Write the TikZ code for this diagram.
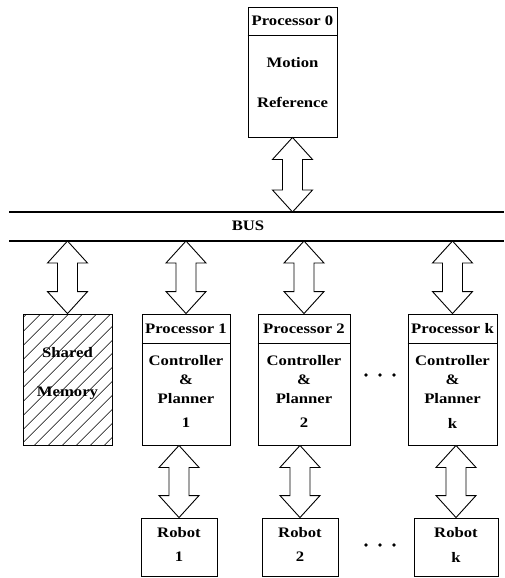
\documentclass[tikz,border=0pt]{standalone}
\usepackage{fontspec}
\setmainfont{Liberation Serif}[FakeStretch=1.15]
\usetikzlibrary{calc,patterns.meta}
\newcommand\dblarr[2]{%
  \draw[arrbox] let \p1=(#1), \p2=(#2) in
  (\x1,\y1) -- (\x1+20pt,\y1-22pt) -- (\x1+10pt,\y1-22pt) -- (\x1+10pt,\y2+22pt)
  -- (\x1+20pt,\y2+22pt) -- (\x1,\y2) -- (\x1-20pt,\y2+22pt) -- (\x1-10pt,\y2+22pt)
  -- (\x1-10pt,\y1-22pt) -- (\x1-20pt,\y1-22pt) -- cycle;}
\begin{document}
\begin{tikzpicture}[x=1pt,y=-1pt,
  txt/.style={font=\fontsize{14.5}{17}\selectfont\bfseries, inner sep=0pt},
  box/.style={draw, line width=0.9pt, inner sep=0pt},
  arrbox/.style={draw, line width=0.9pt, line join=miter, fill=white},
  busline/.style={line width=1.6pt},
  dot/.style={circle, fill, inner sep=0pt, minimum size=3.6pt}]
\useasboundingbox (0,0) rectangle (504,578);

% Processor 0
\node[box, minimum width=89pt, minimum height=130pt] (p0) at (292.5,72) {};
\draw[line width=0.9pt] (p0.west |- 0,35) -- (p0.east |- 0,35);
\node[txt] (p0t) at (292.5,21) {Processor 0};
\node[txt] (p0a) at (292.5,63) {Motion};
\node[txt] (p0b) at (292.5,102) {Reference};

% Bus
\coordinate (bt1) at (9,212);
\coordinate (bt2) at (504,212);
\coordinate (bb1) at (9,241);
\coordinate (bb2) at (504,241);
\draw[busline] (bt1) -- (bt2);
\draw[busline] (bb1) -- (bb2);
\node[txt] (bus) at (248,226) {BUS};

% Shared memory
\node[box, minimum width=89pt, minimum height=131pt,
  pattern={Lines[angle=45,distance=10.5pt,line width=0.75pt]}, pattern color=black] (sm) at (67.5,379.5) {};
\node[txt] (sma) at (67.5,353) {Shared};
\node[txt] (smb) at (67.5,393) {Memory};

% Processors 1, 2, k
\foreach \n/\cx/\w/\lab in {p1/186/88/1, p2/304/92/2, pk/452.5/89/k}{
  \node[box, minimum width=\w pt, minimum height=131pt] (\n) at (\cx,379.5) {};
  \draw[line width=0.9pt] (\n.west |- 0,343) -- (\n.east |- 0,343);
  \node[txt] (\n t) at (\cx,328.5) {Processor \lab};
  \node[txt] (\n a) at (\cx,361) {Controller};
  \node[txt] (\n b) at (\cx,380) {\&};
  \node[txt] (\n c) at (\cx,399) {Planner};
  \node[txt] (\n d) at (\cx,423) {\lab};
}

% Robots
\foreach \n/\cx/\w/\lab in {r1/179/76/1, r2/300/76/2, rk/456/84/k}{
  \node[box, minimum width=\w pt, minimum height=58pt] (\n) at (\cx,547) {};
  \node[txt] (\n a) at (\cx,533) {Robot};
  \node[txt] (\n b) at (\cx,557) {\lab};
}

% Dots
\node[dot] (d1) at (366,375) {};
\node[dot] (d2) at (380,375) {};
\node[dot] (d3) at (394,375) {};
\node[dot] (e1) at (366,545) {};
\node[dot] (e2) at (380,545) {};
\node[dot] (e3) at (394,545) {};

% Arrows
\dblarr{p0.south}{p0.south |- bt1}
\dblarr{bb1 -| sm.north}{sm.north}
\dblarr{bb1 -| p1.north}{p1.north}
\dblarr{bb1 -| p2.north}{p2.north}
\dblarr{bb1 -| pk.north}{pk.north}
\dblarr{p1.south -| r1.north}{r1.north}
\dblarr{p2.south -| r2.north}{r2.north}
\dblarr{pk.south -| rk.north}{rk.north}
\end{tikzpicture}
\end{document}
